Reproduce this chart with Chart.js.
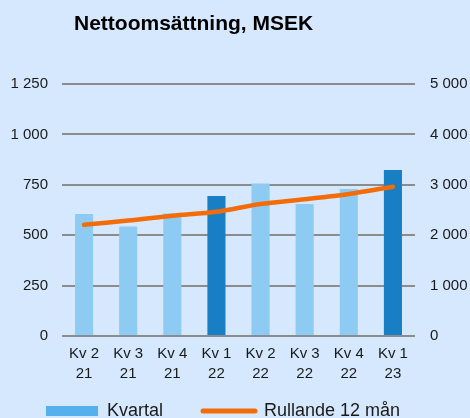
<!DOCTYPE html>
<html>
<head>
<meta charset="utf-8">
<script src="https://cdn.jsdelivr.net/npm/chart.js@4"></script>
<style>
  html, body { margin: 0; padding: 0; background: #d5e8fd; overflow: hidden; }
  .wrap { position: relative; width: 470px; height: 430px; }
</style>
</head>
<body>
<div class="wrap"><canvas id="sales"></canvas></div>
<script>
let titleText = 'Nettoomsättning, MSEK';
let quarters = [['Kv 2', '21'], ['Kv 3', '21'], ['Kv 4', '21'], ['Kv 1', '22'], ['Kv 2', '22'], ['Kv 3', '22'], ['Kv 4', '22'], ['Kv 1', '23']];
let quarterly = [605, 543, 608, 694, 757, 655, 729, 823];
let rolling12 = [2208, 2290, 2388, 2466, 2619, 2712, 2817, 2963];
let barColors = ['#8ecbf2', '#8ecbf2', '#8ecbf2', '#187fc4', '#8ecbf2', '#8ecbf2', '#8ecbf2', '#187fc4'];

// tusentalsavgränsare med mellanslag
function fmt(v) {
    return String(v).replace(/\B(?=(\d{3})+(?!\d))/g, ' ');
}

let titlePlugin = {
    id: 'titleText',
    afterDraw(chart) {
        let ctx = chart.ctx;
        ctx.save();
        ctx.font = 'bold 21px "Liberation Sans", Arial, sans-serif';
        ctx.fillStyle = '#000';
        ctx.textBaseline = 'middle';
        ctx.fillText(titleText, 74, 24);
        ctx.restore();
    }
};

Chart.defaults.font.family = '"Liberation Sans", Arial, sans-serif';
Chart.defaults.color = '#1a1a1a';

let ctxSales = document.getElementById('sales').getContext('2d');
let salesChart = new Chart(ctxSales, {
    data: {
        labels: quarters,
        datasets: [{
            type: 'line',
            label: 'Rullande 12 mån',
            data: rolling12,
            yAxisID: 'y2',
            borderColor: '#f36c0a',
            backgroundColor: '#f36c0a',
            borderWidth: 4.5,
            borderCapStyle: 'round',
            tension: 0.3,
            pointRadius: 0,
            order: 0
        }, {
            type: 'bar',
            label: 'Kvartal',
            data: quarterly,
            yAxisID: 'y',
            backgroundColor: barColors,
            barPercentage: 0.41,
            categoryPercentage: 1,
            order: 1
        }]
    },
    options: {
        responsive: true,
        maintainAspectRatio: false,
        animation: false,
        layout: {
            padding: { top: 84, left: 6, right: 0, bottom: 0 }
        },
        scales: {
            x: {
                afterFit: s => { s.height = 26; },
                grid: { display: false, drawTicks: false },
                border: { display: false },
                // mirror + negativ padding: etiketterna hamnar under axeln utan att klippas
                ticks: { mirror: true, font: { size: 15, lineHeight: 1.33 }, padding: -28, maxRotation: 0 }
            },
            y: {
                position: 'left',
                min: 0,
                max: 1250,
                afterFit: s => { s.width = 56; },
                ticks: { stepSize: 250, font: { size: 15 }, padding: 14, callback: v => fmt(v) },
                grid: { color: '#8c8c8c', lineWidth: 2, drawTicks: false },
                border: { display: false }
            },
            y2: {
                position: 'right',
                min: 0,
                max: 5000,
                afterFit: s => { s.width = 55; },
                ticks: { stepSize: 1000, font: { size: 15 }, padding: 15, callback: v => fmt(v) },
                grid: { display: false, drawTicks: false },
                border: { display: false }
            }
        },
        plugins: {
            legend: {
                position: 'bottom',
                align: 'start',
                reverse: true,
                labels: {
                    usePointStyle: true,
                    pointStyleWidth: 52,
                    boxHeight: 10,
                    padding: 40,
                    font: { size: 18 },
                    color: '#1a1a1a',
                    generateLabels: function (chart) {
                        return chart.data.datasets.map(function (ds, i) {
                            let isLine = ds.type === 'line';
                            return {
                                text: ds.label,
                                fillStyle: isLine ? '#f36c0a' : '#57b0ee',
                                strokeStyle: isLine ? '#f36c0a' : '#57b0ee',
                                lineWidth: isLine ? 5 : 0,
                                lineCap: 'round',
                                pointStyle: isLine ? 'line' : 'rect',
                                fontColor: '#1a1a1a',
                                hidden: false,
                                datasetIndex: i
                            };
                        });
                    }
                }
            },
            tooltip: { enabled: false }
        }
    },
    plugins: [titlePlugin]
});
</script>
</body>
</html>
